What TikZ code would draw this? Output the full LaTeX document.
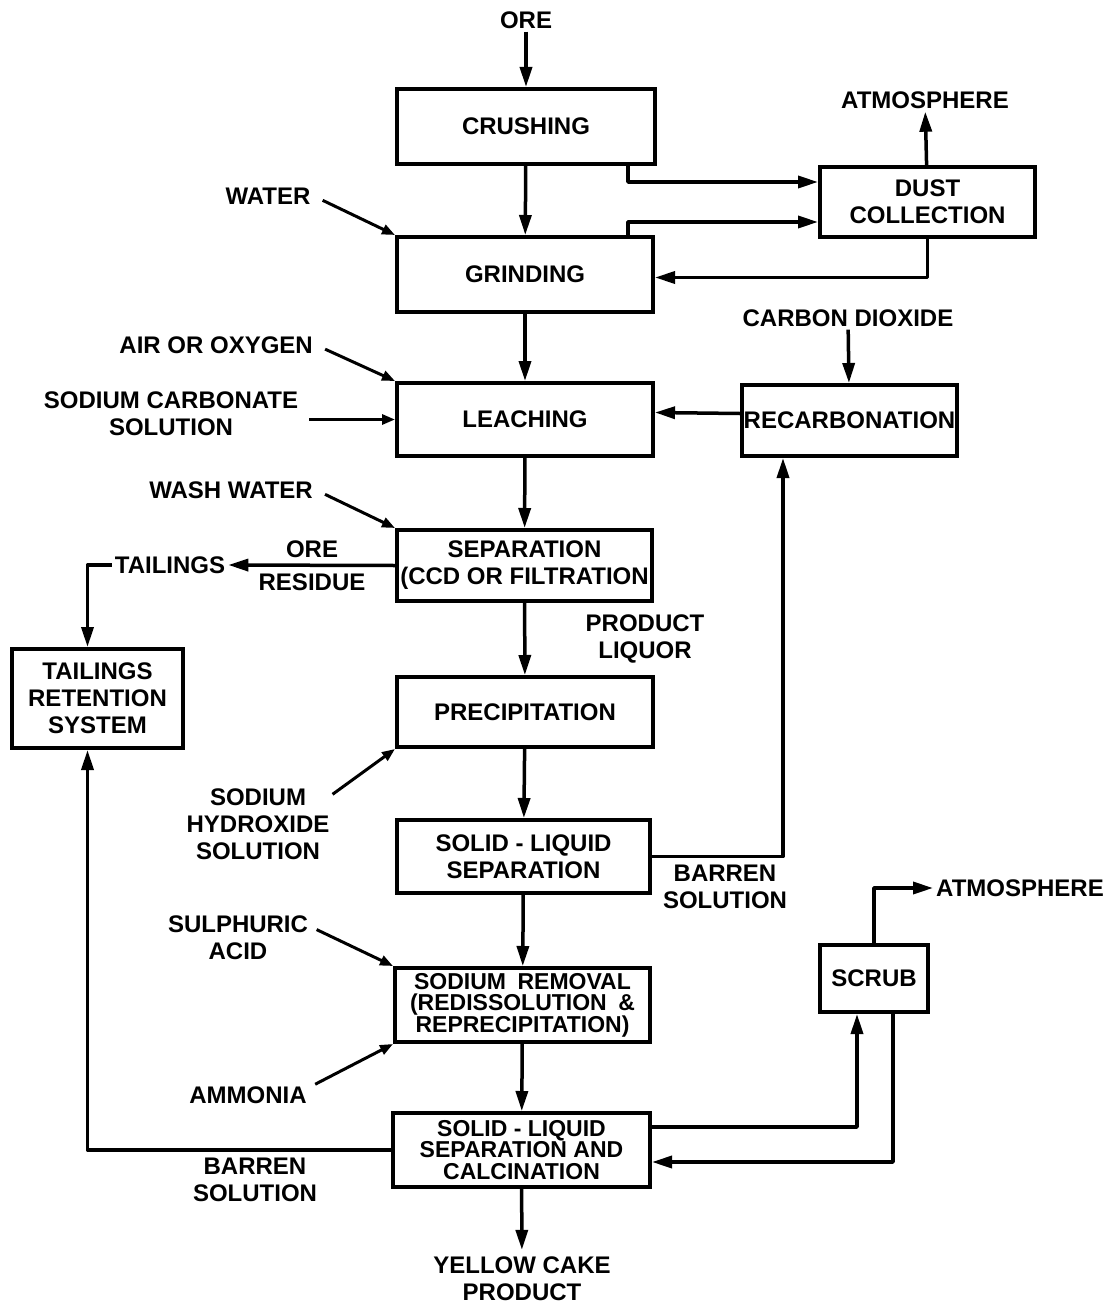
\documentclass[tikz,border=0pt]{standalone}
\usepackage{fontspec}
\setmainfont{Liberation Sans}
\usetikzlibrary{arrows.meta,calc}
\begin{document}
\begin{tikzpicture}[x=1pt,y=-1pt,
  every node/.style={font=\bfseries\fontsize{24}{27}\selectfont, align=center, inner sep=3pt},
  box/.style={draw, line width=4pt, inner sep=0pt},
  tight/.style={font=\bfseries\fontsize{23}{21.5}\selectfont},
  arr/.style={line width=3.5pt, line join=round, -{Triangle[length=20pt,width=12pt]}},
  inarr/.style={line width=3pt, -{Triangle[length=13pt,width=10pt]}},
]
\useasboundingbox (0,0) rectangle (1111,1308);

% process boxes
\node[box,minimum width=258pt,minimum height=75pt] (crush) at (526,126.5) {CRUSHING};
\node[box,minimum width=256pt,minimum height=75pt] (grind) at (525,274.5) {GRINDING};
\node[box,minimum width=256pt,minimum height=73pt] (leach) at (525,419.5) {LEACHING};
\node[box,minimum width=255pt,minimum height=71pt] (sep) at (524.5,565.5) {SEPARATION\\(CCD OR FILTRATION};
\node[box,minimum width=256pt,minimum height=70pt] (precip) at (525,712) {PRECIPITATION};
\node[box,minimum width=253pt,minimum height=73pt] (sls) at (523.5,856.5) {SOLID - LIQUID\\SEPARATION};
\node[box,tight,minimum width=255pt,minimum height=74pt] (sodrem) at (522.5,1005) {SODIUM\enspace REMOVAL\\(REDISSOLUTION\enspace\&\\REPRECIPITATION)};
\node[box,tight,minimum width=257pt,minimum height=74pt] (calc) at (521.5,1150) {SOLID - LIQUID\\SEPARATION AND\\CALCINATION};
\node[box,minimum width=215pt,minimum height=70pt] (dust) at (927.5,202) {DUST\\COLLECTION};
\node[box,minimum width=215pt,minimum height=71pt] (recarb) at (849.5,420.5) {RECARBONATION};
\node[box,minimum width=171pt,minimum height=99pt] (retent) at (97.5,698.5) {TAILINGS\\RETENTION\\SYSTEM};
\node[box,minimum width=108pt,minimum height=67pt] (scrub) at (874,978.5) {SCRUB};

% labels
\node (ore) at (526,20) {ORE};
\node (atm1) at (925,100) {ATMOSPHERE};
\node (water) at (268,196) {WATER};
\node[anchor=east] (air) at (316,345) {AIR OR OXYGEN};
\node (sodcarb) at (171,414) {SODIUM CARBONATE\\SOLUTION};
\node (co2) at (848,318) {CARBON DIOXIDE};
\node[anchor=east] (wash) at (316,490) {WASH WATER};
\node (ore2) at (312,549) {ORE};
\node (resid) at (312,582) {RESIDUE};
\node (tail) at (170,565) {TAILINGS};
\node (prodliq) at (645,638.5) {PRODUCT\\LIQUOR};
\node (sodhyd) at (258,824) {SODIUM\\HYDROXIDE\\SOLUTION};
\node (barren1) at (725,887) {BARREN\\SOLUTION};
\node (sulph) at (238,938) {SULPHURIC\\ACID};
\node (amm) at (248,1095) {AMMONIA};
\node (barren2) at (255,1180) {BARREN\\SOLUTION};
\node[anchor=west] (atm2) at (933,888) {ATMOSPHERE};
\node[inner sep=1pt] (yc) at (522,1279) {YELLOW CAKE\\PRODUCT};

% main flow
\draw[arr] (ore) -- (crush);
\draw[arr] (crush) -- (grind);
\draw[arr] (grind) -- (leach);
\draw[arr] (leach) -- (sep);
\draw[arr] (sep) -- (precip);
\draw[arr] (precip) -- (sls);
\draw[arr] (sls) -- (sodrem);
\draw[arr] (sodrem) -- (calc);
\draw[arr, shorten >=6pt] (calc) -- (yc);

% dust collection loop
\draw[arr] ([xshift=-29pt]crush.south east) |- ([yshift=20pt]dust.west);
\draw[arr] ([xshift=-27pt]grind.north east) |- ([yshift=-20pt]dust.west);
\draw[arr] (dust.south) |- ([yshift=-3pt]grind.east);
\draw[arr] (dust) -- (atm1);

% inputs
\draw[inarr, shorten <=10pt] (water.east) -- (grind.north west);
\draw[inarr, shorten <=10pt] (air.east) -- (leach.north west);
\draw[inarr, shorten <=8pt] (sodcarb.east |- leach.west) -- (leach.west);
\draw[inarr, shorten <=10pt] (wash.east) -- (sep.north west);
\draw[inarr] ([yshift=-9pt]sodhyd.north east) -- (precip.south west);
\draw[inarr, shorten <=6pt] ([yshift=11pt]sulph.east) -- (sodrem.north west);
\draw[inarr, shorten <=6pt] ([yshift=8pt]amm.east) -- (sodrem.south west);

% recarbonation
\draw[arr] (co2) -- (recarb);
\draw[arr] ([yshift=7pt]recarb.west) -- ([yshift=7pt]leach.east);
\draw[arr] (sls.east) -| ([xshift=-66.5pt]recarb.south);

% tailings
\draw[arr] (sep.west) -- (tail.east);
\draw[arr] (tail.west) -| ([xshift=-10pt]retent.north);
\draw[arr] (calc.west) -| ([xshift=-10pt]retent.south);

% scrub
\draw[arr] ([yshift=23pt]calc.east) -| ([xshift=-17pt]scrub.south);
\draw[arr] ([xshift=19pt]scrub.south) |- ([yshift=-12pt]calc.east);
\draw[arr] (scrub.north) |- (atm2.west);
\end{tikzpicture}
\end{document}
